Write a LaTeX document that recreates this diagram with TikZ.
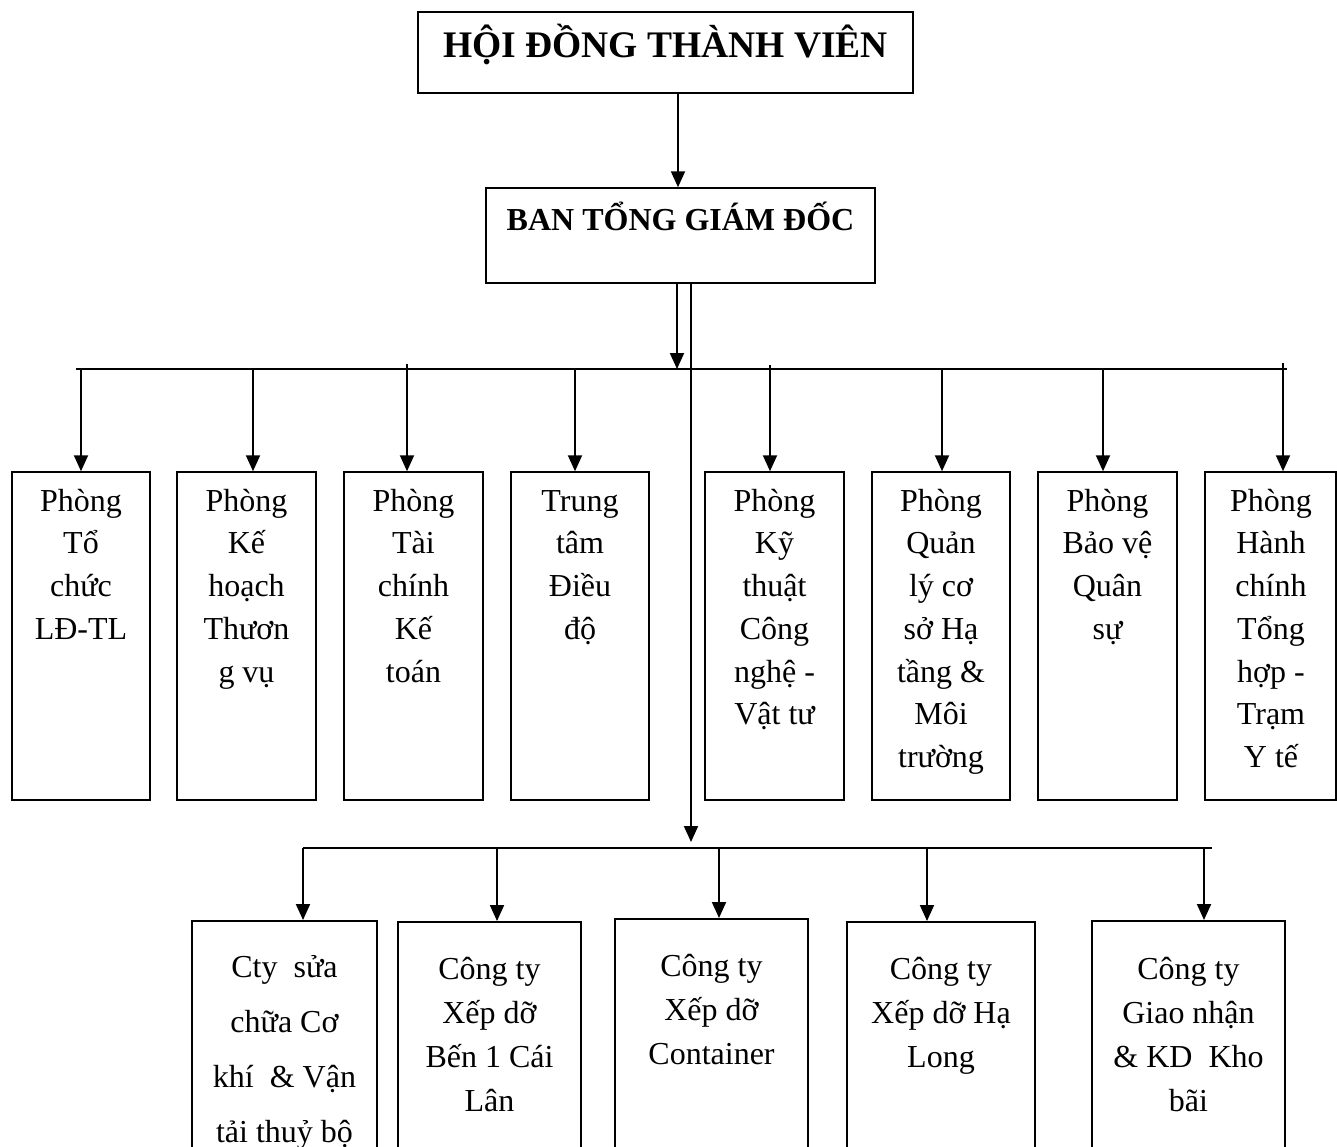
\documentclass[tikz,border=0pt]{standalone}
\usepackage{fontspec}
\setmainfont{Liberation Serif}
\usetikzlibrary{arrows.meta}
\newcommand{\topstrut}{\rule{0pt}{30pt}}
\begin{document}
\begin{tikzpicture}[x=1pt,y=-1pt,
  box/.style={draw, line width=1.5pt, inner sep=0pt},
  txt/.style={inner sep=0pt, align=center, anchor=north, font=\fontsize{32}{42.7}\selectfont},
  txtb/.style={inner sep=0pt, align=center, anchor=north, font=\fontsize{32}{44}\selectfont},
  txtc/.style={inner sep=0pt, align=center, anchor=north, font=\fontsize{32}{55}\selectfont},
  arr/.style={line width=2pt, -{Triangle[length=16pt,width=14pt]}},
  bus/.style={line width=2pt}]
\useasboundingbox (0,0) rectangle (1337,1146);
\clip (0,0) rectangle (1337,1146);

% top boxes
\node[box, minimum width=495pt, minimum height=81pt] (hd) at (665.5,52.5) {};
\node[inner sep=0pt, anchor=base, font=\bfseries\fontsize{37.5}{40}\selectfont] (hdt) at (665.5,57) {HỘI ĐỒNG THÀNH VIÊN};
\node[box, minimum width=389pt, minimum height=95pt] (ban) at (680.5,235.5) {};
\node[inner sep=0pt, anchor=base, font=\bfseries\fontsize{32}{36}\selectfont] (bant) at (680.5,230) {BAN TỔNG GIÁM ĐỐC};

% row 1 boxes
\foreach \n/\c/\w in {b1/81/138, b2/246.5/139, b3/413.5/139, b4/580/138, b5/774.5/139, b6/941/138, b7/1107.5/139, b8/1270.5/131}
  \node[box, minimum width=\w pt, minimum height=328pt] (\n) at (\c,636) {};

\node[txt] (t1) at (81,481) {\topstrut Phòng\\Tổ\\chức\\LĐ-TL};
\node[txt] (t2) at (246.5,481) {\topstrut Phòng\\Kế\\hoạch\\Thươn\\g vụ};
\node[txt] (t3) at (413.5,481) {\topstrut Phòng\\Tài\\chính\\Kế\\toán};
\node[txt] (t4) at (580,481) {\topstrut Trung\\tâm\\Điều\\độ};
\node[txt] (t5) at (774.5,481) {\topstrut Phòng\\Kỹ\\thuật\\Công\\nghệ -\\Vật tư};
\node[txt] (t6) at (941,481) {\topstrut Phòng\\Quản\\lý cơ\\sở Hạ\\tầng \&\\Môi\\trường};
\node[txt] (t7) at (1107.5,481) {\topstrut Phòng\\Bảo vệ\\Quân\\sự};
\node[txt] (t8) at (1271,481) {\topstrut Phòng\\Hành\\chính\\Tổng\\hợp -\\Trạm\\Y tế};

% row 2 boxes
\node[box, minimum width=185pt, minimum height=250pt, anchor=north] (c1) at (284.5,920) {};
\node[box, minimum width=183pt, minimum height=250pt, anchor=north] (c2) at (489.5,921) {};
\node[box, minimum width=193pt, minimum height=250pt, anchor=north] (c3) at (711.5,918) {};
\node[box, minimum width=188pt, minimum height=250pt, anchor=north] (c4) at (941,921) {};
\node[box, minimum width=193pt, minimum height=250pt, anchor=north] (c5) at (1188.5,920) {};

\node[txtc] (u1) at (284.5,947) {\topstrut Cty~~sửa\\chữa Cơ\\khí~~\& Vận\\tải thuỷ bộ};
\node[txtb] (u2) at (489.5,949) {\topstrut Công ty\\Xếp dỡ\\Bến 1 Cái\\Lân};
\node[txtb] (u3) at (711.5,946) {\topstrut Công ty\\Xếp dỡ\\Container};
\node[txtb] (u4) at (941,949) {\topstrut Công ty\\Xếp dỡ Hạ\\Long};
\node[txtb] (u5) at (1188.5,949) {\topstrut Công ty\\Giao nhận\\\& KD~~Kho\\bãi};

% connector coordinates
\coordinate (x0) at (678,0);
\coordinate (xl) at (677,0);
\coordinate (xr) at (691,0);
\coordinate (busL) at (76,369);
\coordinate (busR) at (1287,369);
\coordinate (bus2L) at (303,848);
\coordinate (bus2R) at (1212,848);
\coordinate (bot) at (691,842);

% HD -> BAN
\draw[arr] (hd.south -| x0) -- (ban.north -| x0);
% BAN -> top bus
\draw[arr] (ban.south -| xl) -- (busL -| xl);
% BAN -> lower bus
\draw[arr] (ban.south -| xr) -- (bot);

% buses
\draw[bus] (busL) -- (busR);
\draw[bus] (bus2L) -- (bus2R);

% row 1 arrows
\foreach \n/\x/\s in {b1/81/369, b2/253/369, b3/407/364, b4/575/369, b5/770/365, b6/942/369, b7/1103/369, b8/1283/363}{
  \coordinate (p\n) at (\x,\s);
  \draw[arr] (p\n) -- (p\n |- \n.north);
}
% row 2 arrows
\foreach \n/\x in {c1/303, c2/497, c3/719, c4/927, c5/1204}{
  \coordinate (q\n) at (\x,848);
  \draw[arr] (q\n) -- (q\n |- \n.north);
}
\end{tikzpicture}
\end{document}
